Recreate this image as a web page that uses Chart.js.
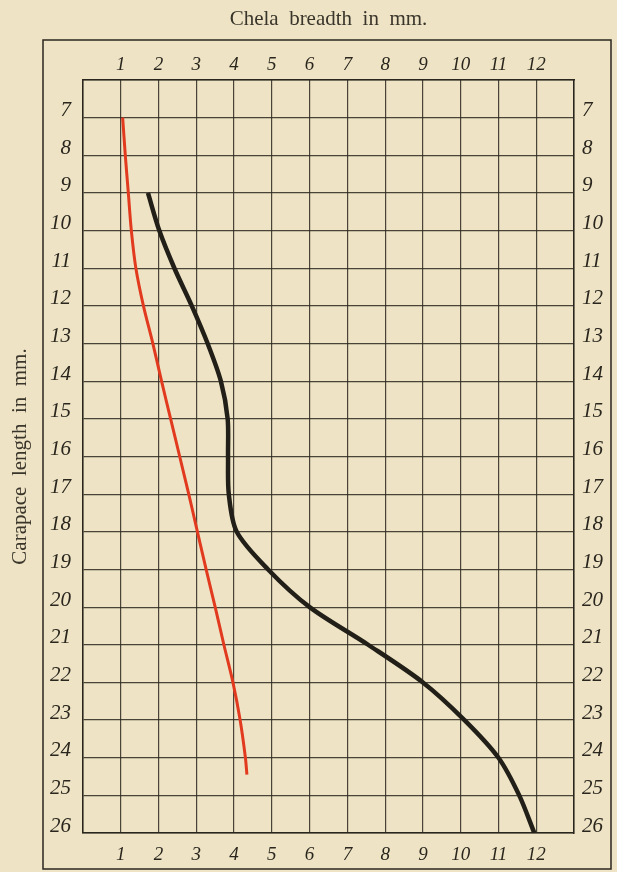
<!DOCTYPE html>
<html>
<head>
<meta charset="utf-8">
<script src="https://cdn.jsdelivr.net/npm/chart.js@4.4.1/dist/chart.umd.min.js"></script>
<style>
    html, body { margin: 0; padding: 0; background: #eee4c5; }
    #wrap { width: 617px; height: 872px; position: relative; }
</style>
</head>
<body>
<div id="wrap"><canvas id="curveChart" width="617" height="872"></canvas></div>
<script>
// tick labels
var breadthTicks = [1, 2, 3, 4, 5, 6, 7, 8, 9, 10, 11, 12];
var lengthTicks = [7, 8, 9, 10, 11, 12, 13, 14, 15, 16, 17, 18, 19, 20, 21, 22, 23, 24, 25, 26];

// red curve (carapace length -> chela breadth)
var redLength  = [7, 8, 9, 10, 11, 12, 13, 14, 15, 16, 17, 18, 19, 20, 21, 22, 23, 24, 24.45];
var redBreadth = [1.05, 1.12, 1.2, 1.28, 1.4, 1.6, 1.85, 2.08, 2.32, 2.56, 2.8, 3.03, 3.26, 3.5, 3.73, 3.97, 4.16, 4.3, 4.34];

// black curve
var blackLength  = [9, 10, 11, 12, 13, 14, 15, 16, 17, 18, 19, 20, 21, 22, 23, 24, 25, 26];
var blackBreadth = [1.72, 2.02, 2.42, 2.88, 3.3, 3.65, 3.83, 3.84, 3.86, 4.07, 4.9, 6.0, 7.55, 9.0, 10.1, 11.0, 11.55, 11.95];

function toPoints(xs, ys) {
    return xs.map(function(x, i) { return { x: x, y: ys[i] }; });
}

var ink = '#2a261e';
var gridInk = 'rgba(45, 40, 30, 0.85)';
var sideFont = { family: "'Liberation Serif'", size: 21, style: 'italic' };
var edgeFont = { family: "'Liberation Serif'", size: 19, style: 'italic' };
var titleFont = { family: "'Liberation Serif'", size: 21 };

function breadthLabel(v) { return breadthTicks.indexOf(v) >= 0 ? String(v) : ''; }
function lengthLabel(v) { return lengthTicks.indexOf(v) >= 0 ? String(v) : ''; }

// outer frame round the sheet
var framePlugin = {
    id: 'frame',
    beforeDraw: function(chart) {
        var ctx = chart.ctx;
        var a = chart.chartArea;
        ctx.save();
        ctx.strokeStyle = ink;
        ctx.lineWidth = 1.5;
        ctx.strokeRect(a.left - 40, a.top - 40, (a.right - a.left) + 77, (a.bottom - a.top) + 76);
        ctx.restore();
    }
};

var ctx = document.getElementById('curveChart').getContext('2d');
var curveChart = new Chart(ctx, {
    type: 'line',
    data: {
        datasets: [{
            label: 'Red curve',
            data: toPoints(redBreadth, redLength),
            borderColor: '#e23a1f',
            borderWidth: 3,
            pointRadius: 0,
            tension: 0.3,
            fill: false
        }, {
            label: 'Black curve',
            data: toPoints(blackBreadth, blackLength),
            borderColor: '#221f19',
            borderWidth: 4.5,
            pointRadius: 0,
            tension: 0.3,
            fill: false
        }]
    },
    options: {
        responsive: false,
        animation: false,
        indexAxis: 'y',
        layout: { padding: 0 },
        plugins: {
            legend: { display: false },
            tooltip: { enabled: false }
        },
        scales: {
            x: {
                type: 'linear',
                position: 'bottom',
                min: 0,
                max: 13,
                ticks: { stepSize: 1, autoSkip: false, maxRotation: 0, padding: 11, color: ink, font: edgeFont, callback: breadthLabel },
                grid: { color: gridInk, lineWidth: 1.2, drawTicks: false },
                border: { color: ink, width: 1.5 },
                afterFit: function(scale) { scale.height = 39; }
            },
            x2: {
                type: 'linear',
                position: 'top',
                min: 0,
                max: 13,
                ticks: { stepSize: 1, autoSkip: false, maxRotation: 0, padding: 4, color: ink, font: edgeFont, callback: breadthLabel },
                grid: { display: false, drawTicks: false },
                border: { color: ink, width: 1.5 },
                title: {
                    display: true,
                    text: 'Chela  breadth  in  mm.',
                    color: '#3a352b',
                    font: titleFont,
                    padding: { top: 7 }
                },
                afterFit: function(scale) { scale.height = 80; }
            },
            y: {
                type: 'linear',
                position: 'left',
                reverse: true,
                min: 6,
                max: 26,
                ticks: { stepSize: 1, autoSkip: false, padding: 12, labelOffset: -7, color: ink, font: sideFont, callback: lengthLabel },
                grid: { color: gridInk, lineWidth: 1.2, drawTicks: false },
                border: { color: ink, width: 1.5 },
                title: {
                    display: true,
                    text: 'Carapace  length  in  mm.',
                    color: '#3a352b',
                    font: titleFont,
                    padding: { top: 8 }
                },
                afterFit: function(scale) { scale.width = 83; }
            },
            y2: {
                type: 'linear',
                position: 'right',
                reverse: true,
                min: 6,
                max: 26,
                ticks: { stepSize: 1, autoSkip: false, padding: 8, labelOffset: -7, color: ink, font: sideFont, callback: lengthLabel },
                grid: { display: false, drawTicks: false },
                border: { color: ink, width: 1.5 },
                afterFit: function(scale) { scale.width = 43; }
            }
        }
    },
    plugins: [framePlugin]
});
</script>
</body>
</html>
